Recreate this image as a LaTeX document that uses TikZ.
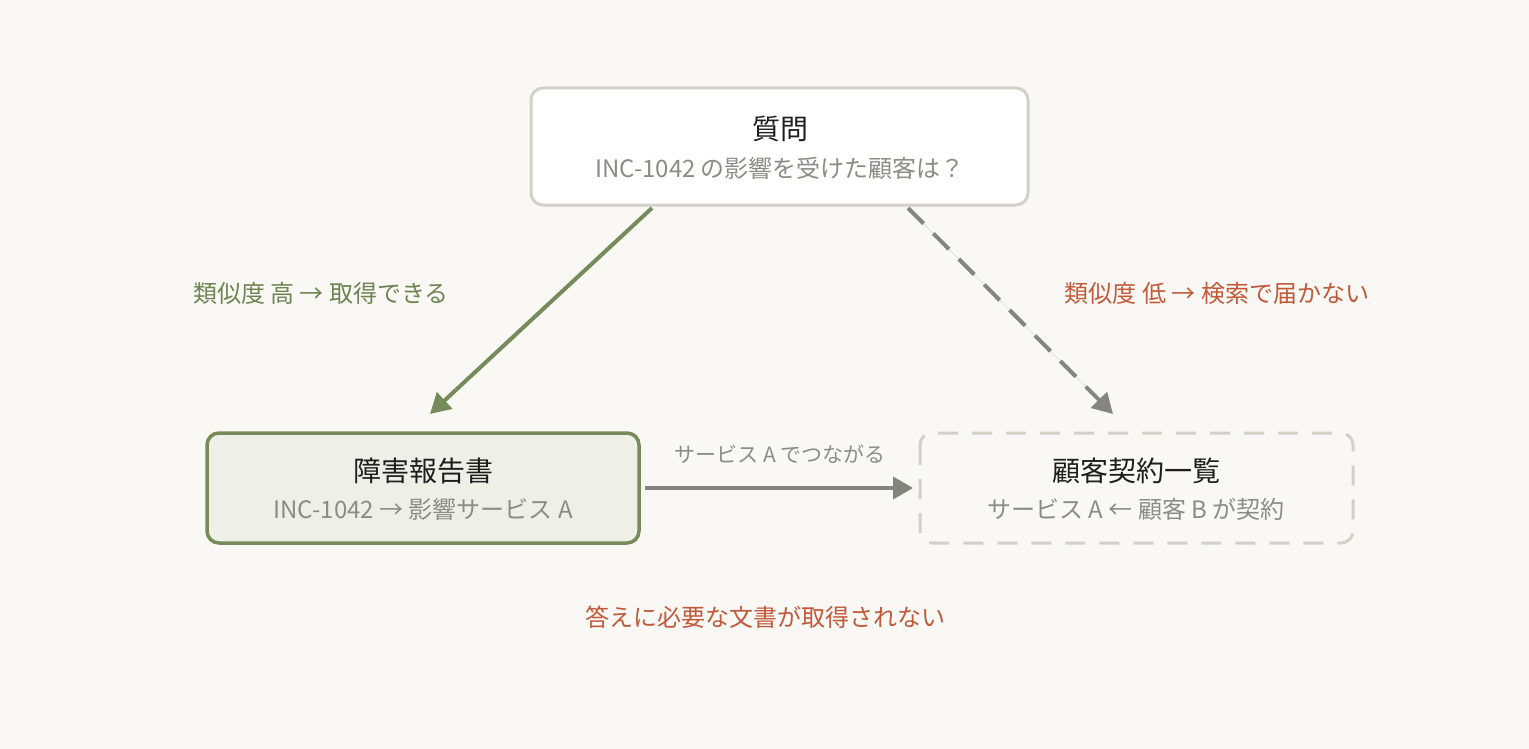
\documentclass[tikz,border=0pt]{standalone}
\usepackage{fontspec}
\setmainfont{Noto Sans CJK JP}
\usetikzlibrary{arrows.meta}
\definecolor{bg}{HTML}{F9F8F4}
\definecolor{boxgray}{HTML}{D2D0C7}
\definecolor{green}{HTML}{778A5A}
\definecolor{greenfill}{HTML}{EEF0E7}
\definecolor{txtgreen}{HTML}{6D8450}
\definecolor{txtred}{HTML}{C2593A}
\definecolor{arrgray}{HTML}{85847F}
\definecolor{subgray}{HTML}{8C8B86}
\definecolor{titleblack}{HTML}{1E1E1E}
\tikzset{
  boxbase/.style={rounded corners=12pt, line width=3pt},
  titletext/.style={font=\fontsize{28}{32}\selectfont, text=titleblack},
  subtext/.style={font=\fontsize{24}{28}\selectfont, text=subgray},
  labeltext/.style={font=\fontsize{24}{28}\selectfont},
  arr/.style={line width=4pt, -{Triangle[length=20pt,width=22pt]}},
}
\begin{document}
\begin{tikzpicture}[x=1pt,y=-1pt]
\fill[bg] (0,0) rectangle (1529,749);
\useasboundingbox (0,0) rectangle (1529,749);
% boxes
\draw[boxbase, draw=boxgray, fill=white] (531,88) rectangle (1028,205);
\node[titletext] (qt) at (780,129) {質問};
\node[subtext] (qs) at (780,168) {INC-1042 の影響を受けた顧客は？};
\draw[boxbase, draw=green, fill=greenfill, line width=3.5pt] (207,433) rectangle (639,543);
\node[titletext] (lt) at (423,471) {障害報告書};
\node[subtext] (ls) at (423,509) {INC-1042 → 影響サービス A};
\draw[boxbase, draw=boxgray, dash pattern=on 20pt off 14pt] (920,433) rectangle (1353,543);
\node[titletext] (rt) at (1136,471) {顧客契約一覧};
\node[subtext] (rs) at (1136,509) {サービス A ← 顧客 B が契約};
% connectors
\coordinate (q1) at (652,208);
\coordinate (l1) at (430,414);
\coordinate (q2) at (908,208);
\coordinate (r1) at (1113,414);
\coordinate (l2) at (645,488);
\coordinate (r2) at (913,488);
\draw[arr, draw=green, fill=green] (q1) -- (l1);
\draw[arr, draw=arrgray, fill=arrgray, dash pattern=on 22pt off 14pt] (q2) -- (r1);
\draw[arr, draw=arrgray, fill=arrgray] (l2) -- (r2);
% labels
\node[labeltext, text=txtgreen] (lg) at (321,293) {類似度 高 → 取得できる};
\node[labeltext, text=txtred] (lr) at (1217,293) {類似度 低 → 検索で届かない};
\node[font=\fontsize{21}{25}\selectfont, text=subgray] (lm) at (780,454) {サービス A でつながる};
\node[labeltext, text=txtred] (lb) at (765,617) {答えに必要な文書が取得されない};
\end{tikzpicture}
\end{document}
